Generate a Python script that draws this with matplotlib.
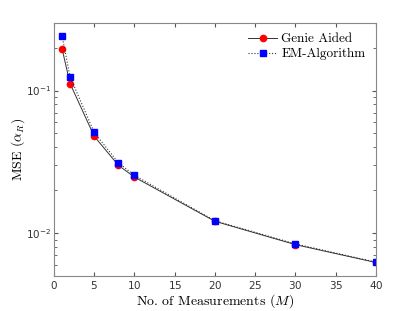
import matplotlib
matplotlib.use('Agg')
import matplotlib.pyplot as plt
import numpy as np

plt.rcParams['mathtext.fontset'] = 'cm'
plt.rcParams['axes.formatter.use_mathtext'] = True

M = [1, 2, 5, 8, 10, 20, 30, 40]
genie = [0.197, 0.112, 0.0478, 0.0299, 0.0247, 0.0121, 0.0083, 0.00622]
em = [0.243, 0.125, 0.0508, 0.0312, 0.0254, 0.0122, 0.0084, 0.00625]

fig = plt.figure(figsize=(4.15, 3.11), dpi=100)
ax = fig.add_axes([0.130, 0.1125, 0.776, 0.815])

ax.plot(M, genie, '-', color='#333333', lw=0.7, marker='o', ms=4.5,
        mfc='red', mec='red', label='Genie Aided')
ax.plot(M, em, ':', color='#333333', lw=0.8, marker='s', ms=4,
        mfc='blue', mec='blue', label='EM-Algorithm')

ax.set_yscale('log')
ax.set_xlim(0, 40)
ax.set_ylim(0.005, 0.3)
ax.set_xticks(np.arange(0, 41, 5))

for s in ax.spines.values():
    s.set_color('#888888')
    s.set_linewidth(0.8)
ax.tick_params(which='both', direction='in', top=True, right=True,
               colors='#555555', labelcolor='#333333', labelsize=7.5, pad=2)
ax.tick_params(which='major', length=3)
ax.tick_params(which='minor', length=2)

ax.set_xlabel('No. of Measurements ($M$)', family='cmr10', fontsize=10, labelpad=1)
ax.set_ylabel(r'MSE ($\alpha_R$)', family='cmr10', fontsize=10, labelpad=-1)

ax.legend(loc='upper right', frameon=False, prop={'family': 'cmr10', 'size': 9.5},
          handlelength=2.2, handletextpad=0.3, borderaxespad=0.4, labelspacing=0.2)

fig.savefig('out.png', dpi=100)
